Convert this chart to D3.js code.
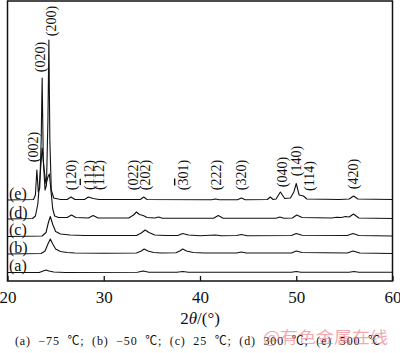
<!DOCTYPE html>
<html>
<head>
<meta charset="utf-8">
<script src="https://cdn.jsdelivr.net/npm/d3@7"></script>
<style>
  body { margin: 0; background: #fff; }
  svg { display: block; }
  text { font-family: "Liberation Serif", "Noto Sans CJK SC", serif; }
</style>
</head>
<body>
<div id="chart"></div>
<script>
// XRD patterns, [2theta, intensity]
const seriesA = [[20,0],[23.3,0],[23.7,1.5],[24.0,2.5],[24.3,1.5],[24.8,0.5],[26,0],[33.5,0.3],[34.1,1.5],[34.7,0.3],[37.6,0.3],[38.2,1],[38.8,0.2],[49.5,0.2],[50,1],[50.5,0.2],[55.5,0.3],[56,1],[56.5,0.3],[60,0.3]]
const seriesB = [[20,0],[23.5,0.5],[23.9,3],[24.2,10],[24.45,15],[24.7,10],[25.0,5],[25.5,2.5],[26.2,1.5],[27,1],[30,0.8],[33.4,1],[33.9,3],[34.2,5],[34.6,3],[35.2,1.5],[36,1],[37.5,1.2],[37.9,3],[38.2,5],[38.6,3],[39.3,1.5],[40.5,1],[43.8,1],[44.3,2],[44.8,1],[49.5,1],[50,3],[50.6,1.5],[55.3,1],[55.9,3],[56.6,1],[60,0.5]]
const seriesC = [[20,0],[23.6,0.5],[24.0,4],[24.25,14],[24.45,20],[24.7,12],[25.0,5],[25.5,2.5],[26.5,1.5],[28,1],[33.4,1],[33.9,3.5],[34.3,6.5],[34.7,4],[35.3,1.5],[36.5,1],[37.7,1],[38.2,3],[38.8,1.5],[40,0.8],[41.6,1.5],[42.2,0.8],[43.8,1],[44.3,2],[44.9,0.8],[49.5,1],[50,3],[50.6,1.2],[55.3,1],[55.9,3],[56.5,1],[60,0.5]]
const seriesD = [[20,0],[22.6,0.5],[22.9,3],[23.15,15],[23.4,45],[23.6,71],[23.8,50],[24.0,35],[24.2,42],[24.35,45],[24.5,30],[24.7,10],[24.9,3],[25.3,1.5],[26.2,1.5],[26.65,4],[27.1,1.5],[28.4,1],[28.9,3.5],[29.4,1],[32.6,1],[33.1,4],[33.4,7],[33.7,4.5],[34.1,3.5],[34.5,1.5],[35.3,1],[35.7,2],[36.1,0.8],[41.4,0.8],[41.9,3.5],[42.4,0.8],[47.9,0.8],[48.3,2],[48.7,0.8],[49.6,1],[50.05,4],[50.6,1.5],[53.7,1],[54.2,1.8],[54.7,1.5],[55.1,2.5],[55.5,2],[55.95,5],[56.5,1],[60,0.5]]
const seriesE = [[20,0],[22.7,0.5],[22.9,5],[23.05,30],[23.2,8],[23.35,12],[23.5,60],[23.6,122],[23.72,40],[23.9,10],[24.05,15],[24.2,80],[24.3,160],[24.4,60],[24.55,10],[24.8,2],[25.5,0.5],[26.2,0.5],[26.6,3],[27,0.5],[28.0,0.5],[28.4,3],[28.9,1.5],[29.5,0.5],[33.8,0.5],[34.15,3],[34.5,0.5],[41.2,0.3],[41.6,1],[42,0.3],[43.9,0.3],[44.3,2],[44.7,0.3],[47,0.5],[47.3,3],[47.6,0.5],[47.9,1],[48.35,8],[48.8,1.5],[49.4,2],[49.75,8],[50.0,16.5],[50.3,5],[50.75,4],[51.1,1],[54.5,0.5],[55.5,1],[55.95,4],[56.4,1],[60,0.5]]

const seriesNames = ["(a)", "(b)", "(c)", "(d)", "(e)"]
const seriesOffsets = [8.5, 27, 44.5, 62, 81]

// hkl labels; "bar" is the digit index carrying an overline (-1 = none)
const peakLabels = ["(002)", "(020)", "(200)", "(120)", "(112)", "(112)", "(022)", "(202)", "(301)", "(222)", "(320)", "(040)", "(140)", "(114)", "(420)"]
const peakBar = [-1, -1, -1, -1, 1, -1, -1, -1, 1, -1, -1, -1, -1, -1, -1]
const peakPos = [22.65, 23.48, 24.52, 26.67, 28.42, 29.61, 33.04, 34.29, 38.23, 41.73, 44.33, 48.62, 50.05, 51.36, 55.93]
const peakLevel = [134, 224, 260, 106, 106, 106, 106, 106, 106, 106, 106, 109, 120, 105, 107]

const xTicks = [20, 30, 40, 50, 60]
const caption = "(a)  \u221275  \u2103;  (b)  \u221250  \u2103;  (c)  25  \u2103;  (d)  300  \u2103;  (e)  500  \u2103"

const W = 400, H = 353
const svg = d3.select("#chart").append("svg").attr("width", W).attr("height", H)

const x = d3.scaleLinear().domain([20, 60]).range([7.5, 392.5])
const y = d3.scaleLinear().domain([0, 280]).range([281, 1])

const allSeries = [seriesA, seriesB, seriesC, seriesD, seriesE]
const line = d3.line().x(d => x(d[0])).y(d => y(d[1]))

allSeries.forEach((s, i) => {
  svg.append("path")
    .attr("d", line(s.map(d => [d[0], d[1] + seriesOffsets[i]])))
    .attr("fill", "none")
    .attr("stroke", "#111")
    .attr("stroke-width", 1.1)
    .attr("stroke-linejoin", "round")
})

// frame
svg.append("rect")
  .attr("x", x(20)).attr("y", y(280))
  .attr("width", x(60) - x(20)).attr("height", y(0) - y(280))
  .attr("fill", "none").attr("stroke", "#111").attr("stroke-width", 1.5)

// bottom axis, ticks inward
const xAxis = d3.axisBottom(x).tickValues(xTicks).tickSizeInner(-5).tickSizeOuter(0).tickPadding(10)
const gx = svg.append("g").attr("transform", `translate(0,${y(0)})`).call(xAxis)
gx.select(".domain").remove()
gx.selectAll(".tick line").attr("stroke", "#111").attr("stroke-width", 1.3)
gx.selectAll(".tick text")
  .style("font-family", "'Liberation Serif', serif")
  .attr("font-size", 17).attr("fill", "#111")

const title = svg.append("text")
  .attr("x", 200).attr("y", 324)
  .attr("text-anchor", "middle")
  .attr("font-size", 17).attr("fill", "#111")
title.append("tspan").text("2")
title.append("tspan").attr("font-style", "italic").text("\u03b8")
title.append("tspan").text("/(\u00b0)")

// series labels
seriesNames.forEach((n, i) => {
  svg.append("text")
    .attr("x", 9).attr("y", y(seriesOffsets[i]) - 7)
    .attr("dominant-baseline", "central")
    .attr("font-size", 16).attr("fill", "#111")
    .text(n)
})

// peak labels
peakLabels.forEach((t, i) => {
  const px = x(peakPos[i]), py = y(peakLevel[i])
  const tx = svg.append("text")
    .attr("transform", `translate(${px},${py}) rotate(-90)`)
    .attr("text-anchor", "middle")
    .attr("dominant-baseline", "central")
    .attr("font-size", 14).attr("fill", "#111")
  const b = peakBar[i]
  if (b < 0) { tx.text(t); return }
  tx.append("tspan").text(t.slice(0, b))
  tx.append("tspan").style("text-decoration", "overline").text(t.slice(b, b + 1))
  tx.append("tspan").text(t.slice(b + 1))
})

svg.append("text")
  .attr("x", 15).attr("y", 345)
  .attr("font-size", 12).attr("fill", "#111")
  .attr("textLength", 365).attr("lengthAdjust", "spacing")
  .style("white-space", "pre")
  .text(caption)

svg.append("text")
  .attr("x", 263).attr("y", 343)
  .style("font-family", "'Noto Sans CJK SC', sans-serif")
  .attr("font-size", 16).attr("fill", "rgba(232,110,120,0.6)")
  .attr("textLength", 125).attr("lengthAdjust", "spacingAndGlyphs")
  .text("@有色金属在线")
</script>
</body>
</html>
